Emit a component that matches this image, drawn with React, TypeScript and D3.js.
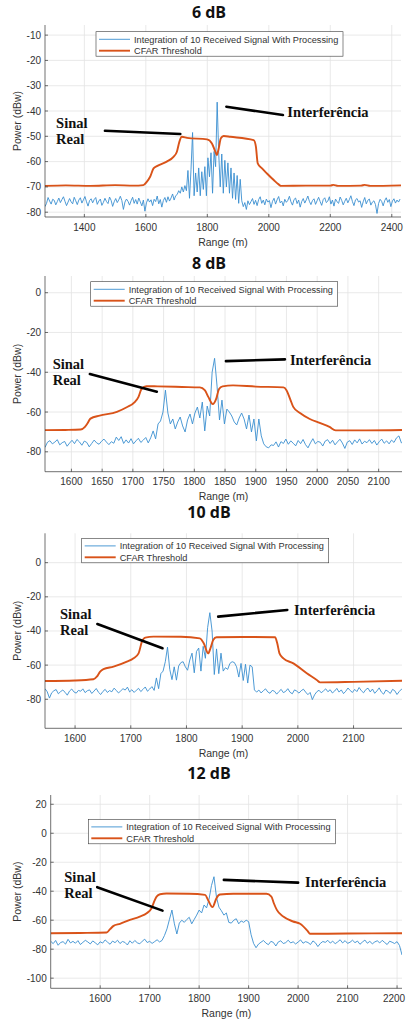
import React from 'react';
import * as d3 from 'd3';

// ---------- data ----------
const titles = ['6 dB', '8 dB', '10 dB', '12 dB'];
const legendLabels = ['Integration of 10 Received Signal With Processing', 'CFAR Threshold'];
const xLabel = 'Range (m)';
const yLabel = 'Power (dBw)';

const xTicks6 = [1400, 1600, 1800, 2000, 2200, 2400];
const yTicks6 = [-80, -70, -60, -50, -40, -30, -20, -10];
const xTicks8 = [1600, 1650, 1700, 1750, 1800, 1850, 1900, 1950, 2000, 2050, 2100];
const yTicks8 = [-80, -60, -40, -20, 0];
const xTicks10 = [1600, 1700, 1800, 1900, 2000, 2100];
const yTicks10 = [-80, -60, -40, -20, 0];
const xTicks12 = [1600, 1700, 1800, 1900, 2000, 2100, 2200];
const yTicks12 = [-100, -80, -60, -40, -20, 0, 20];

// received signal, 6 dB (step 5 m)
const sig6Starts = [1272, 1702, 1917];
const sig6Left = [
  -77.8, -76.5, -74.2, -75.6, -76.8, -74.9, -75.3, -77.1, -75.8, -74.4,
  -76.2, -75.0, -73.9, -75.7, -77.4, -76.0, -74.6, -75.9, -76.7, -74.1,
  -75.5, -77.0, -75.2, -74.3, -76.4, -75.1, -73.8, -75.9, -77.6, -75.4,
  -74.7, -76.3, -75.0, -74.2, -76.9, -75.6, -74.8, -77.3, -76.1, -74.5,
  -75.8, -76.6, -74.0, -75.3, -77.7, -75.9, -74.6, -76.2, -75.1, -73.7,
  -75.4, -78.9, -76.0, -74.8, -75.7, -77.2, -75.5, -74.1, -76.5, -75.0,
  -76.8, -74.4, -75.9, -77.5, -75.2, -79.6, -76.3, -74.7, -76.0, -75.1,
  -77.4, -74.9, -75.8, -73.6, -76.7, -75.0, -78.0, -75.4, -74.2, -76.1,
  -73.9, -75.6, -74.4, -72.8, -75.2, -73.5,
];
const sig6Mid = [
  -73.0, -71.5, -72.5, -70.0, -72.0, -69.5, -71.5, -63.5, -74.5, -63.0,
  -48.5, -73.5, -64.5, -72.0, -62.5, -73.5, -64.0, -71.0, -62.0, -73.5,
  -58.5, -66.0, -56.5, -72.5, -56.0, -62.0, -36.5, -56.5, -70.0, -57.0,
  -72.5, -59.5, -70.0, -60.5, -72.5, -62.5, -74.5, -64.5, -75.0, -65.5,
  -76.5, -67.0, -75.5,
];
const sig6Right = [
  -77.8, -76.2, -78.9, -75.5, -77.0, -75.8, -74.6, -76.9, -75.3, -77.4,
  -75.0, -73.9, -76.5, -75.2, -77.1, -74.8, -76.0, -75.4, -78.2, -75.7,
  -74.5, -76.8, -75.1, -73.8, -76.3, -75.6, -77.5, -74.9, -76.1, -75.3,
  -73.7, -75.9, -77.2, -75.0, -74.4, -76.6, -75.2, -78.0, -75.8, -74.6,
  -76.4, -75.1, -73.6, -75.7, -77.0, -75.4, -74.7, -76.9, -75.5, -74.1,
  -75.8, -77.3, -75.0, -74.3, -76.2, -75.6, -73.9, -76.8, -75.2, -77.6,
  -74.8, -75.9, -76.5, -74.0, -75.3, -77.1, -75.7, -74.5, -76.3, -75.0,
  -73.5, -75.8, -77.4, -75.1, -74.6, -76.0, -75.5, -78.1, -75.9, -74.2,
  -76.7, -75.3, -74.8, -77.2, -76.0, -75.5, -77.0, -80.5, -76.6, -74.9,
  -75.7, -77.5, -75.4, -74.3, -76.1, -75.0, -77.8, -75.6, -74.7, -76.4,
  -75.2, -76.0, -74.8,
];
const cfar6: [number, number][] = [
  [1272, -69.6], [1340, -69.4], [1420, -69.6], [1500, -69.3], [1560, -69.5], [1592, -69.3],
  [1603, -68], [1614, -66], [1625, -62.7], [1636, -61.8], [1668, -60], [1690, -58.1],
  [1701, -56.1], [1709, -52.2], [1717, -50.2], [1734, -50.6], [1799, -51.2], [1815, -52.8],
  [1826, -56.1], [1831, -57.4], [1837, -54.8], [1844, -50.8], [1853, -49.9], [1875, -50.2],
  [1951, -51.5], [1958, -54.1], [1964, -60.7], [1978, -62.7], [1994, -64.7], [2016, -67.3],
  [2032, -69], [2040, -69.6], [2120, -69.5], [2200, -69.5], [2210, -69.2], [2225, -69.6],
  [2300, -69.5], [2312, -69.2], [2330, -69.6], [2430, -69.4],
];

// received signal, 8 dB (step 4 m)
const sig8Starts = [1557, 1733, 1929];
const sig8Left = [
  -77.8, -75.2, -74.4, -76.0, -75.1, -73.9, -76.5, -75.4, -74.8, -77.2,
  -75.6, -74.2, -75.9, -73.8, -75.0, -76.7, -74.6, -75.3, -77.5, -75.8,
  -74.1, -75.5, -76.2, -74.7, -73.6, -75.1, -76.4, -74.9, -75.7, -72.6,
  -74.3, -72.4, -75.8, -74.0, -75.6, -73.4, -76.0, -74.5, -73.2, -75.3,
  -74.1, -72.8, -75.5, -73.0,
];
const sig8Mid = [
  -69.5, -73.5, -66.0, -64.5, -60.0, -49.0, -60.5, -66.0, -63.5, -68.5,
  -65.0, -62.5, -67.0, -70.0, -64.0, -61.0, -66.0, -60.5, -57.5, -63.0,
  -55.0, -69.5, -57.0, -62.0, -40.0, -33.0, -47.0, -64.0, -54.0, -66.0,
  -58.5, -60.0, -62.0, -65.0, -66.5, -63.0, -60.5, -63.5, -68.5, -61.5,
  -70.0, -63.5, -74.5, -63.5, -72.0, -76.0, -77.5, -78.0, -76.5,
];
const sig8Right = [
  -76.8, -75.0, -77.6, -74.9, -75.8, -73.6, -76.2, -74.5, -75.7, -77.0,
  -74.3, -75.9, -73.8, -76.4, -78.0, -75.5, -73.4, -76.0, -74.8, -75.2,
  -77.1, -74.6, -73.9, -75.8, -74.2, -76.5, -75.0, -73.7, -75.6, -78.3,
  -75.1, -74.4, -76.3, -74.0, -75.5, -73.5, -76.1, -74.7, -75.4, -73.9,
  -75.8, -74.3, -76.6, -74.9, -73.6, -75.7, -74.5, -76.0, -74.1, -75.3,
  -73.0, -72.0, -75.5, -74.6,
];
const cfar8: [number, number][] = [
  [1557, -69.1], [1590, -69.0], [1615, -68.8], [1622, -67.5], [1626, -65.8], [1631, -63.3],
  [1646, -61.8], [1674, -59.9], [1690, -57.6], [1703, -55], [1709, -52.5], [1714, -48.5],
  [1722, -47], [1740, -47.1], [1780, -47.4], [1809, -47.6], [1817, -49], [1823, -52.5],
  [1830, -56], [1836, -53], [1840, -48.5], [1846, -47.1], [1863, -46.6], [1900, -47.2],
  [1945, -47.6], [1950, -49], [1956, -53.5], [1961, -57.4], [1972, -60.5], [1988, -63.5],
  [2004, -65.5], [2020, -67.5], [2030, -69.2], [2080, -69.2], [2141, -69.0],
];

// received signal, 10 dB (step 4 m)
const sig10Starts = [1546, 1746, 1926];
const sig10Left = [
  -73.8, -75.6, -79.3, -76.2, -75.0, -74.3, -76.8, -75.5, -74.6, -75.9,
  -77.6, -75.2, -74.0, -75.7, -76.4, -74.8, -75.3, -73.9, -76.1, -75.0,
  -74.5, -76.6, -75.2, -73.7, -75.9, -77.2, -75.4, -74.2, -76.0, -74.9,
  -75.6, -73.5, -74.8, -76.3, -75.1, -73.8, -74.6, -72.9, -75.7, -74.4,
  -76.0, -74.7, -73.6, -75.5, -74.2, -72.8, -75.3, -74.0, -72.6, -74.8,
];
const sig10Mid = [
  -67.5, -73.8, -65.0, -63.5, -58.0, -49.5, -62.5, -68.5, -61.0, -68.8,
  -60.5, -58.5, -58.0, -61.0, -63.0, -57.0, -53.0, -64.5, -52.0, -50.0,
  -63.5, -49.0, -56.0, -38.0, -29.3, -40.0, -65.5, -50.5, -65.0, -53.0,
  -63.5, -61.5, -62.5, -59.0, -58.0, -58.5, -61.0, -67.0, -59.0, -69.0,
  -59.5, -70.5, -60.0, -61.0, -74.5,
];
const sig10Right = [
  -75.8, -74.6, -76.3, -75.0, -73.9, -75.7, -76.5, -74.8, -75.3, -77.0,
  -75.5, -74.2, -76.1, -75.4, -73.8, -75.9, -76.8, -74.5, -75.2, -76.4,
  -75.0, -74.1, -75.8, -77.3, -76.0, -80.2, -77.4, -75.6, -74.7, -76.2,
  -75.1, -73.9, -75.6, -74.4, -76.3, -75.2, -73.6, -75.8, -74.5, -76.7,
  -75.3, -73.4, -74.9, -76.0, -74.2, -75.5, -73.1, -75.0, -76.2, -74.3,
  -73.5, -75.7, -74.0, -76.5, -75.1, -73.3, -75.8, -77.0, -74.6, -75.4,
  -76.6, -74.2, -75.0, -77.2, -75.5, -74.1, -74.8,
];
const cfar10: [number, number][] = [
  [1546, -69.3], [1600, -69.0], [1633, -68.3], [1639, -66.8], [1645, -63.8], [1651, -62.3],
  [1669, -60.9], [1693, -58], [1705, -56], [1714, -53.1], [1720, -46.3], [1726, -43.9],
  [1741, -43.3], [1790, -43.4], [1824, -44.3], [1831, -47.2], [1839, -53.1], [1843, -50.2],
  [1848, -45.3], [1854, -43.7], [1900, -43.5], [1959, -43.7], [1963, -47.2], [1967, -53.1],
  [1974, -56], [1992, -59], [2016, -64.8], [2034, -68.7], [2040, -70.1], [2100, -69.8],
  [2194, -69.1],
];

// received signal, 12 dB (step 5 m)
const sig12Starts = [1500, 1725, 1920];
const sig12Left = [
  -74.5, -76.2, -74.0, -77.3, -75.4, -74.8, -76.5, -73.2, -75.7, -74.6,
  -75.9, -74.1, -76.8, -75.3, -73.9, -75.0, -76.4, -74.3, -75.6, -77.0,
  -74.9, -75.8, -73.6, -75.2, -76.6, -74.4, -75.5, -73.8, -76.1, -74.7,
  -75.3, -77.1, -74.2, -75.9, -74.0, -75.6, -76.3, -74.5, -73.1, -75.4,
  -74.6, -76.0, -74.8, -73.5, -75.0,
];
const sig12Mid = [
  -74.0, -70.5, -66.0, -59.5, -53.0, -62.5, -69.5, -62.0, -60.0, -61.5,
  -59.5, -58.0, -62.5, -59.5, -56.5, -53.0, -55.0, -49.5, -51.5, -45.5,
  -36.0, -30.0, -44.0, -51.0, -53.5, -56.5, -55.0, -61.5, -62.0, -60.0,
  -59.0, -62.5, -60.5, -61.5, -60.0, -61.0, -70.0, -76.0, -79.0,
];
const sig12Right = [
  -76.5, -75.2, -74.0, -75.8, -76.9, -74.6, -75.3, -77.8, -75.0, -74.2,
  -76.1, -75.5, -73.8, -75.7, -74.9, -76.4, -75.1, -73.6, -75.9, -74.8,
  -75.4, -76.8, -74.3, -75.6, -78.2, -76.0, -74.7, -75.3, -73.9, -75.8,
  -74.5, -76.2, -75.0, -73.5, -75.7, -74.1, -76.0, -75.2, -73.8, -75.5,
  -74.4, -76.6, -75.1, -73.7, -75.9, -74.6, -76.3, -75.0, -74.2, -75.7,
  -73.9, -75.4, -76.8, -74.5, -75.2, -76.1, -74.8, -77.5, -84.0,
];
const cfar12: [number, number][] = [
  [1500, -69], [1560, -68.8], [1613, -68.5], [1620, -66.2], [1627, -63.9], [1640, -62.5],
  [1660, -59.8], [1680, -57.5], [1694, -55.2], [1704, -51.7], [1709, -47.1], [1714, -43.7],
  [1721, -42.1], [1734, -41.6], [1780, -41.7], [1812, -42.5], [1818, -46], [1827, -51],
  [1835, -44.8], [1842, -42.3], [1869, -41.8], [1936, -41.8], [1946, -43.7], [1951, -48.3],
  [1957, -52.9], [1970, -57.5], [1990, -60.9], [2004, -62.5], [2020, -67.8], [2024, -69.4],
  [2100, -69.2], [2210, -69],
];

// ---------- layout ----------
type Pt = [number, number];
type PanelCfg = {
  title: string; titleY: number;
  left: number; right: number; top: number; bottom: number;
  xDomain: Pt; yDomain: Pt; xTicks: number[]; yTicks: number[];
  starts: number[]; step: number; segs: number[][]; cfar: Pt[];
  legend: Pt;
  sinal: Pt; sinalLine: [Pt, Pt];
  interf: Pt; interfLine: [Pt, Pt];
};

const panels: PanelCfg[] = [
  {
    title: titles[0], titleY: 17.5, left: 45, right: 401, top: 25, bottom: 217,
    xDomain: [1272, 2430], yDomain: [-81.9, -6], xTicks: xTicks6, yTicks: yTicks6,
    starts: sig6Starts, step: 5, segs: [sig6Left, sig6Mid, sig6Right], cfar: cfar6,
    legend: [51, 6.7],
    sinal: [1308, -46.8], sinalLine: [[1467, -47.8], [1712, -49.1]],
    interf: [2060, -42.3], interfLine: [[1862, -38.3], [2046, -41.6]],
  },
  {
    title: titles[1], titleY: 269.3, left: 45, right: 402, top: 276, bottom: 471.7,
    xDomain: [1557, 2138], yDomain: [-90, 8.4], xTicks: xTicks8, yTicks: yTicks8,
    starts: sig8Starts, step: 4, segs: [sig8Left, sig8Mid, sig8Right], cfar: cfar8,
    legend: [45.7, 5.7],
    sinal: [1569.5, -38.5], sinalLine: [[1630, -40.9], [1739, -49.8]],
    interf: [1955.6, -36.4], interfLine: [[1851.5, -34.4], [1947.5, -33.5]],
  },
  {
    title: titles[2], titleY: 518.3, left: 45, right: 402, top: 533.3, bottom: 728.3,
    xDomain: [1546, 2187], yDomain: [-97, 17.2], xTicks: xTicks10, yTicks: yTicks10,
    starts: sig10Starts, step: 4, segs: [sig10Left, sig10Mid, sig10Right], cfar: cfar10,
    legend: [36.7, 5],
    sinal: [1573, -33.1], sinalLine: [[1640, -35.9], [1757, -50.1]],
    interf: [1993, -30.6], interfLine: [[1857, -31.6], [1981, -27.7]],
  },
  {
    title: titles[3], titleY: 779, left: 50.7, right: 402, top: 795, bottom: 988.3,
    xDomain: [1500, 2210], yDomain: [-107, 26.4], xTicks: xTicks12, yTicks: yTicks12,
    starts: sig12Starts, step: 5, segs: [sig12Left, sig12Mid, sig12Right], cfar: cfar12,
    legend: [37.6, 24.3],
    sinal: [1527.5, -33.4], sinalLine: [[1594, -37.2], [1726, -53.4]],
    interf: [2014, -36.8], interfLine: [[1850, -32.2], [2000, -34.1]],
  },
];

const BLUE = '#3a8ed0';
const ORANGE = '#D95319';
const AXIS = '#333333';
const GRID = '#e3e3e3';
const SANS = '"Liberation Sans", Arial, Helvetica, sans-serif';
const SERIF = '"Liberation Serif", "Times New Roman", serif';

function Chart({ p, id }: { p: PanelCfg; id: number }) {
  const x = d3.scaleLinear().domain(p.xDomain).range([p.left, p.right]);
  const y = d3.scaleLinear().domain(p.yDomain).range([p.bottom, p.top]);
  const sigPts: Pt[] = p.segs.flatMap((seg, k) => seg.map((v, i) => [p.starts[k] + i * p.step, v] as Pt));
  const sigLine = d3.line<Pt>().x(d => x(d[0])).y(d => y(d[1]));
  const cfarLine = d3.line<Pt>().x(d => x(d[0])).y(d => y(d[1])).curve(d3.curveMonotoneX);
  const clipId = `clip${id}`;
  const cx = (p.left + p.right) / 2;
  const cy = (p.top + p.bottom) / 2;
  const [lx, ly] = [p.left + p.legend[0], p.top + p.legend[1]];
  const sx = x(p.sinal[0]);
  const sy = y(p.sinal[1]);

  return (
    <g>
      <defs>
        <clipPath id={clipId}>
          <rect x={p.left} y={p.top} width={p.right - p.left} height={p.bottom - p.top} />
        </clipPath>
      </defs>
      <text x={209} y={p.titleY} textAnchor="middle" fontFamily='"Open Sans", sans-serif'
        fontWeight={700} fontSize={16} fill="#111">{p.title}</text>

      {/* grid */}
      {p.xTicks.map(t => (
        <line key={`gx${t}`} x1={x(t)} x2={x(t)} y1={p.top} y2={p.bottom} stroke={GRID} strokeWidth={0.8} />
      ))}
      {p.yTicks.map(t => (
        <line key={`gy${t}`} x1={p.left} x2={p.right} y1={y(t)} y2={y(t)} stroke={GRID} strokeWidth={0.8} />
      ))}

      {/* series */}
      <g clipPath={`url(#${clipId})`}>
        <path d={sigLine(sigPts) ?? ''} fill="none" stroke={BLUE} strokeWidth={0.9} strokeLinejoin="round" />
        <path d={cfarLine(p.cfar) ?? ''} fill="none" stroke={ORANGE} strokeWidth={1.9} strokeLinejoin="round" />
      </g>

      {/* axes */}
      <line x1={p.left} x2={p.left} y1={p.top} y2={p.bottom} stroke={AXIS} strokeWidth={0.7} />
      <line x1={p.left} x2={p.right} y1={p.bottom} y2={p.bottom} stroke={AXIS} strokeWidth={0.7} />
      {p.xTicks.map(t => {
        const tx = Math.min(x(t), 405 - 11);
        return (
          <g key={`tx${t}`}>
            <line x1={x(t)} x2={x(t)} y1={p.bottom} y2={p.bottom - 3} stroke={AXIS} strokeWidth={0.7} />
            <text x={tx} y={p.bottom + 13.5} textAnchor="middle" fontFamily={SANS} fontSize={10} fill={AXIS}>{t}</text>
          </g>
        );
      })}
      {p.yTicks.map(t => (
        <g key={`ty${t}`}>
          <line x1={p.left} x2={p.left + 3} y1={y(t)} y2={y(t)} stroke={AXIS} strokeWidth={0.7} />
          <text x={p.left - 4} y={y(t)} dy="0.35em" textAnchor="end" fontFamily={SANS} fontSize={10} fill={AXIS}>{t}</text>
        </g>
      ))}
      <text x={cx} y={p.bottom + 28.5} textAnchor="middle" fontFamily={SANS} fontSize={10.5} fill={AXIS}>{xLabel}</text>
      <text transform={`translate(20.5,${cy}) rotate(-90)`} textAnchor="middle" fontFamily={SANS} fontSize={10.5} fill={AXIS}>{yLabel}</text>

      {/* legend */}
      <rect x={lx} y={ly} width={247} height={24.5} fill="#fff" stroke="#3a3a3a" strokeWidth={0.6} />
      <line x1={lx + 3} x2={lx + 34} y1={ly + 7.6} y2={ly + 7.6} stroke={BLUE} strokeWidth={0.9} />
      <line x1={lx + 3} x2={lx + 34} y1={ly + 19} y2={ly + 19} stroke={ORANGE} strokeWidth={1.9} />
      <text x={lx + 38} y={ly + 7.6} dy="0.35em" fontFamily={SANS} fontSize={9.2} fill={AXIS}>{legendLabels[0]}</text>
      <text x={lx + 38} y={ly + 19} dy="0.35em" fontFamily={SANS} fontSize={9.2} fill={AXIS}>{legendLabels[1]}</text>

      {/* annotations */}
      <text x={sx} y={sy} fontFamily={SERIF} fontWeight={700} fontSize={14.5} fill="#111">Sinal</text>
      <text x={sx} y={sy + 16} fontFamily={SERIF} fontWeight={700} fontSize={14.5} fill="#111">Real</text>
      <line x1={x(p.sinalLine[0][0])} y1={y(p.sinalLine[0][1])} x2={x(p.sinalLine[1][0])} y2={y(p.sinalLine[1][1])}
        stroke="#000" strokeWidth={2.6} strokeLinecap="round" />
      <text x={x(p.interf[0])} y={y(p.interf[1])} fontFamily={SERIF} fontWeight={700} fontSize={14.5} fill="#111">Interferência</text>
      <line x1={x(p.interfLine[0][0])} y1={y(p.interfLine[0][1])} x2={x(p.interfLine[1][0])} y2={y(p.interfLine[1][1])}
        stroke="#000" strokeWidth={2.6} strokeLinecap="round" />
    </g>
  );
}

export default function App() {
  return (
    <svg width={406} height={1023} style={{ position: 'absolute', left: 0, top: 0, background: '#fff' }}>
      <rect width={406} height={1023} fill="#fff" />
      {panels.map((p, i) => <Chart key={i} p={p} id={i} />)}
    </svg>
  );
}
